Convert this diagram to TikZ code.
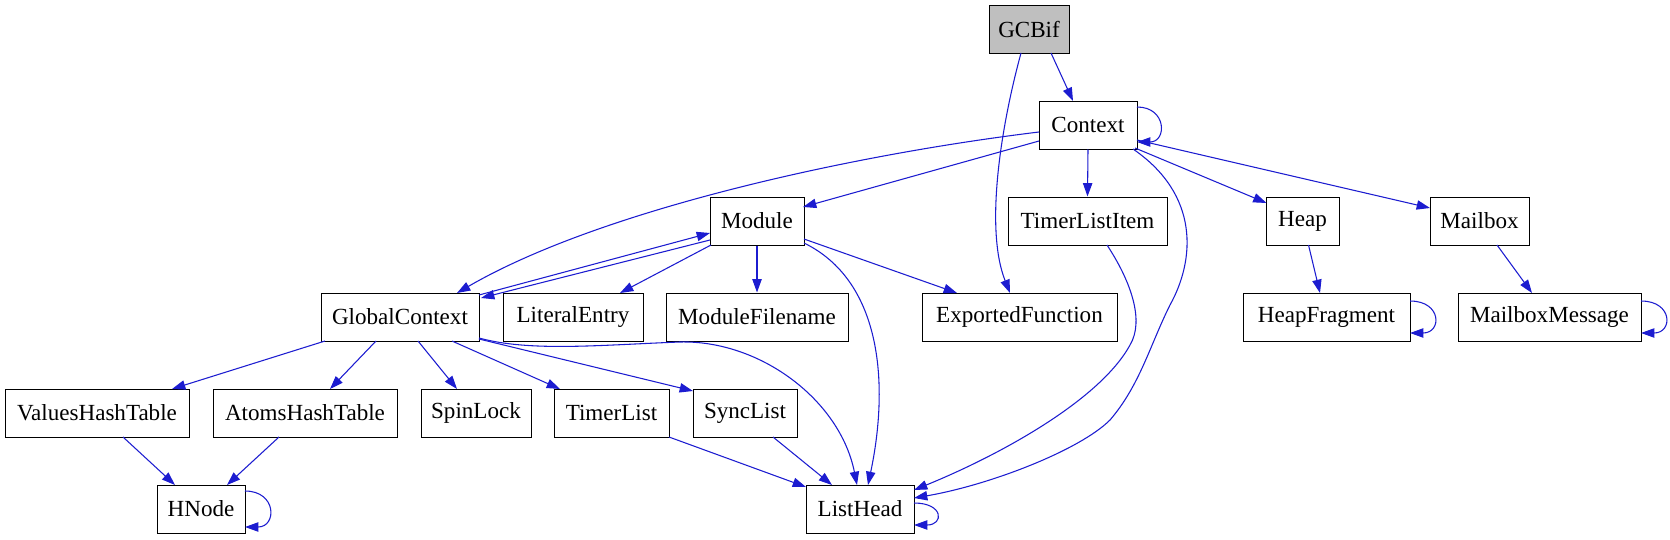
\documentclass[tikz,border=0pt]{standalone}
\usepackage{fontspec}
\setmainfont{Liberation Serif}
\usetikzlibrary{arrows.meta,calc}
\definecolor{edgeblue}{RGB}{28,28,208}
\definecolor{boxgray}{RGB}{191,191,191}
\begin{document}
\begin{tikzpicture}[x=0.75pt,y=-0.75pt,
  box/.style={draw=black,line width=0.75pt,minimum width=#1*0.75pt,minimum height=36pt,inner sep=0pt,font=\fontsize{17.3}{20}\selectfont},
  edge/.style={draw=edgeblue,line width=0.8pt,-{Triangle[length=10pt,width=7pt]}}]
\useasboundingbox (0,0) rectangle (1670,539);
% nodes
\node[box=80,fill=boxgray] (gcbif) at (1029,29) {GCBif};
\node[box=98] (ctx) at (1088,125) {Context};
\node[box=94] (module) at (757,221) {Module};
\node[box=159] (tli) at (1087.5,221) {TimerListItem};
\node[box=73] (heap) at (1302.5,221) {Heap};
\node[box=99] (mailbox) at (1479.5,221) {Mailbox};
\node[box=158] (gctx) at (400,317) {GlobalContext};
\node[box=140] (lit) at (573,317) {LiteralEntry};
\node[box=182] (mfn) at (757,317) {ModuleFilename};
\node[box=195] (exp) at (1019.5,317) {ExportedFunction};
\node[box=167] (hfrag) at (1326.5,317) {HeapFragment};
\node[box=183] (mmsg) at (1549.5,317) {MailboxMessage};
\node[box=184] (vht) at (97,413) {ValuesHashTable};
\node[box=184] (aht) at (305,413) {AtomsHashTable};
\node[box=110] (spin) at (476,413) {SpinLock};
\node[box=115] (tlist) at (611.5,413) {TimerList};
\node[box=104] (sync) at (745,413) {SyncList};
\node[box=88] (hnode) at (201,509) {HNode};
\node[box=108] (lhead) at (860,509) {ListHead};
% edges from GCBif
\draw[edge] ($(gcbif)+(22,24)$) -- ($(ctx)+(-15,-24)$);
\draw[edge] ($(gcbif)+(-8,24)$) .. controls +(-21,77) and +(-25,-63) .. ($(exp)+(-9.5,-24)$);
% edges from Context
\draw[edge] ($(ctx)+(49,-18)$) .. controls +(30,0) and +(30,0) .. ($(ctx)+(49,17)$);
\draw[edge] ($(ctx)+(-49,7)$) .. controls +(-189,23) and +(143,-83) .. ($(gctx)+(57,-24)$);
\draw[edge] ($(ctx)+(-49,16)$) -- ($(module)+(46,-14)$);
\draw[edge] (ctx.south) -- (tli.north);
\draw[edge] ($(ctx)+(45,24)$) .. controls (1200,195) and (1195,260) .. (1170,305)
   .. controls (1150,345) and (1140,385) .. (1110,420)
   .. controls (1080,450) and (990,485) .. ($(lhead)+(54,-11)$);
\draw[edge] ($(ctx)+(47,23)$) -- ($(heap)+(-36,-18)$);
\draw[edge] ($(ctx)+(49,15)$) -- ($(mailbox)+(-49.5,-13)$);
% TimerListItem
\draw[edge] ($(tli)+(19.5,24)$) .. controls (1130,280) and (1145,320) .. (1130,345)
   .. controls (1100,400) and (1000,455) .. ($(lhead)+(54,-19)$);
% Heap, Mailbox
\draw[edge] ($(heap)+(6,24)$) -- ($(hfrag)+(-6.5,-24)$);
\draw[edge] ($(hfrag)+(83.5,-16)$) .. controls +(32,0) and +(32,0) .. ($(hfrag)+(83.5,16)$);
\draw[edge] ($(mailbox)+(17.5,24)$) -- ($(mmsg)+(-17.5,-24)$);
\draw[edge] ($(mmsg)+(91.5,-16)$) .. controls +(32,0) and +(32,0) .. ($(mmsg)+(91.5,16)$);
% Module <-> GlobalContext
\draw[edge] ($(gctx)+(79,-22)$) -- ($(module)+(-47,12)$);
\draw[edge] ($(module)+(-47,19)$) -- ($(gctx)+(81,-19)$);
% Module
\draw[edge] ($(module)+(-46,24)$) -- ($(lit)+(47,-24)$);
\draw[edge] (module.south) -- (mfn.north);
\draw[edge] ($(module)+(47,18)$) -- ($(exp)+(-62.5,-24)$);
\draw[edge] ($(module)+(47,22)$) .. controls +(76,37) and +(22,-105) .. ($(lhead)+(8,-24)$);
% GlobalContext
\draw[edge] ($(gctx)+(-75,24)$) -- ($(vht)+(75,-24)$);
\draw[edge] ($(gctx)+(-24,24)$) -- ($(aht)+(25,-24)$);
\draw[edge] ($(gctx)+(18,24)$) -- ($(spin)+(-19,-24)$);
\draw[edge] ($(gctx)+(52,24)$) -- ($(tlist)+(-51.5,-24)$);
\draw[edge] ($(gctx)+(79,22)$) -- ($(sync)+(-52,-22)$);
\draw[edge] ($(gctx)+(79,21)$) .. controls (530,352) and (600,345) .. (680,342)
   .. controls (760,340) and (840,400) .. ($(lhead)+(-3,-24)$);
% lower row
\draw[edge] ($(tlist)+(57.5,24)$) -- ($(lhead)+(-54,-22)$);
\draw[edge] ($(sync)+(28,24)$) -- ($(lhead)+(-28,-24)$);
\draw[edge] ($(lhead)+(54,-6)$) .. controls +(30,0) and +(30,0) .. ($(lhead)+(54,16)$);
\draw[edge] ($(vht)+(26,24)$) -- ($(hnode)+(-26,-24)$);
\draw[edge] ($(aht)+(-26,24)$) -- ($(hnode)+(26,-24)$);
\draw[edge] ($(hnode)+(44,-18)$) .. controls +(32,0) and +(32,0) .. ($(hnode)+(44,18)$);
\end{tikzpicture}
\end{document}
